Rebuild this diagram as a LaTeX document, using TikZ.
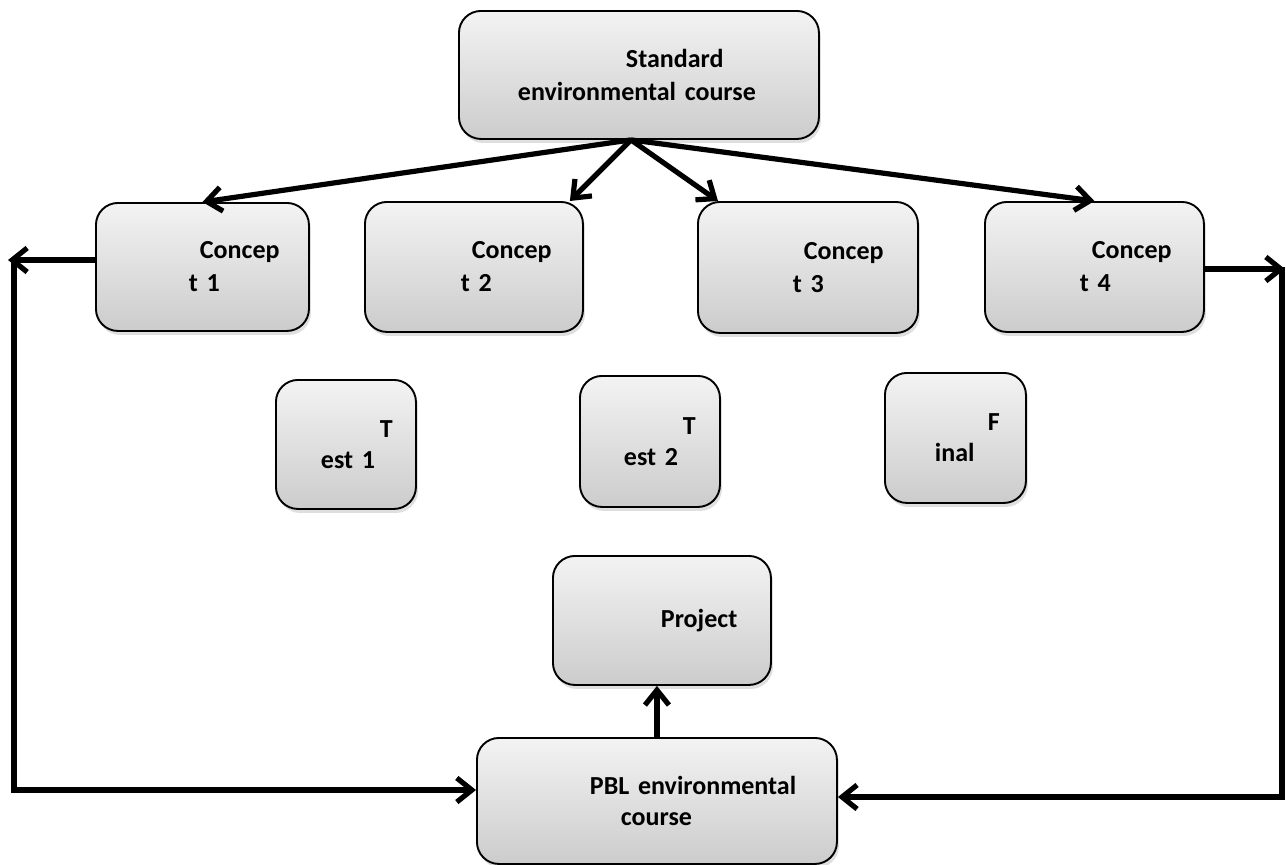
\documentclass[tikz,border=0pt]{standalone}
\usepackage{fontspec}
\setmainfont{Carlito}
\usetikzlibrary{arrows.meta,shadows}
\definecolor{boxtop}{RGB}{243,243,243}
\definecolor{boxbot}{RGB}{204,204,204}
\newcommand\boxfont{\fontsize{26}{33}\selectfont\bfseries}
\newcommand\boxfonts{\fontsize{26}{31}\selectfont\bfseries}
\begin{document}
\begin{tikzpicture}[x=1pt,y=-1pt,
  box/.style={draw, line width=1.9pt, rounded corners=22pt, top color=boxtop, bottom color=boxbot,
    drop shadow={shadow xshift=2pt,shadow yshift=-4pt,opacity=0.25},
    inner xsep=0pt, inner ysep=0pt, align=left, anchor=north west, font=\boxfont},
  sbox/.style={box, font=\boxfonts},
  arr/.style={line width=5.2pt, -{Straight Barb[length=15pt,width=24pt]}}]
\useasboundingbox (0,0) rectangle (1286,865);

\node[box, text width=360pt, minimum height=128pt] (top) at (458,10) {\hspace*{167pt}Standard\\\hspace*{59pt}environmental course};
\node[box, text width=213pt, minimum height=128pt] (c1) at (95,202) {\hspace*{104pt}Concep\\\hspace*{93pt}t 1};
\node[box, text width=218pt, minimum height=130pt] (c2) at (364,201) {\hspace*{107pt}Concep\\\hspace*{96pt}t 2};
\node[box, text width=220pt, minimum height=131pt] (c3) at (697,201) {\hspace*{106pt}Concep\\\hspace*{95pt}t 3};
\node[box, text width=219pt, minimum height=130pt] (c4) at (984,201) {\hspace*{107pt}Concep\\\hspace*{95pt}t 4};
\node[sbox, text width=140pt, minimum height=129pt] (t1) at (275,379) {\hspace*{104pt}T\\\hspace*{45pt}est 1};
\node[sbox, text width=140pt, minimum height=131pt] (t2) at (579,375) {\hspace*{103pt}T\\\hspace*{44pt}est 2};
\node[sbox, text width=141pt, minimum height=130pt] (fin) at (884,372) {\hspace*{103pt}F\\\hspace*{50pt}inal};
\node[box, text width=218pt, minimum height=129pt] (proj) at (552,555) {\hspace*{108pt}Project};
\node[sbox, text width=360pt, minimum height=126pt] (pbl) at (476,737) {\hspace*{113pt}PBL environmental\\\hspace*{144pt}course};

\draw[arr] ([xshift=-8pt]top.south) -- (c1.north);
\draw[arr] ([xshift=-8pt]top.south) -- ([xshift=-14pt]c2.north east);
\draw[arr] ([xshift=-8pt]top.south) -- ([xshift=21pt]c3.north west);
\draw[arr] ([xshift=-8pt]top.south) -- (c4.north);

\coordinate (ltip) at (8,260);
\coordinate (ltop) at (14,258);
\coordinate (lbot) at (14,790);
\draw[arr] (c1.west |- ltip) -- (ltip);
\draw[arr] (ltop) -- (lbot) -- (pbl.west |- lbot);

\coordinate (rtip) at (1285,269);
\coordinate (rtop) at (1282,267);
\coordinate (rbot) at (1282,797);
\draw[arr] (c4.east |- rtip) -- (rtip);
\draw[arr] (rtop) -- (rbot) -- (pbl.east |- rbot);

\draw[arr] (pbl.north) -- (pbl.north |- proj.south);
\end{tikzpicture}
\end{document}
